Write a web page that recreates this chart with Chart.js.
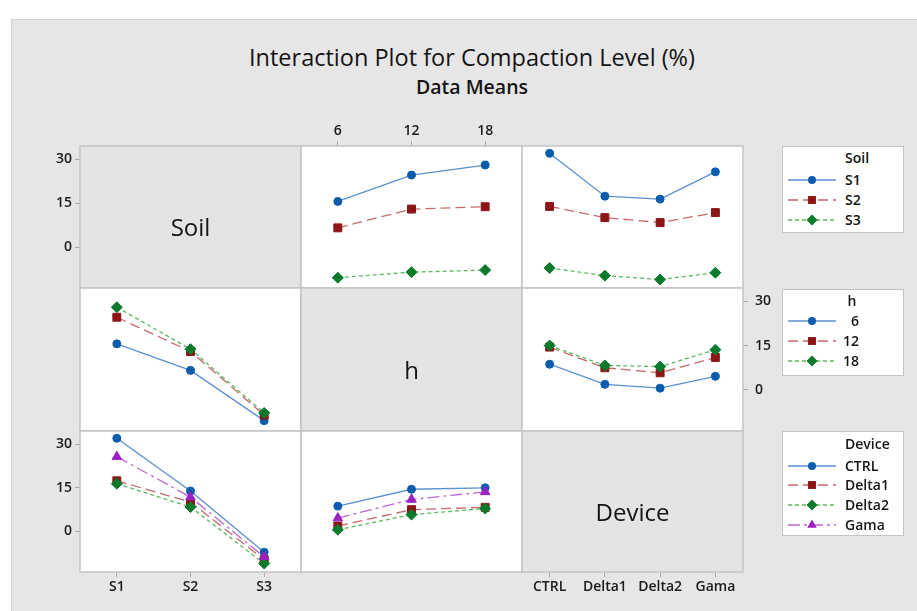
<!DOCTYPE html>
<html>
<head>
<meta charset="utf-8">
<script src="https://cdn.jsdelivr.net/npm/chart.js@4.4.1/dist/chart.umd.min.js"></script>
<style>
  html, body { margin: 0; padding: 0; background: #fff; }
  #stage { position: relative; width: 917px; height: 611px; overflow: hidden; background: #fff;
           font-family: "Open Sans", "Noto Sans", sans-serif; color: #141414; }
  #frame { position: absolute; left: 11px; top: 19px; right: 0; bottom: 0; background: #e6e6e6;
           border-top: 1px solid #d2d2d2; border-left: 1px solid #d2d2d2; }
  #stage canvas { position: absolute; }
  .title { position: absolute; left: 0; width: 944px; text-align: center; white-space: nowrap; }
  .diag { position: absolute; text-align: center; font-size: 24px; font-weight: 500; white-space: nowrap; }
  .legend { position: absolute; background: #fff; border: 1.5px solid #c4c4c4; box-sizing: border-box; }
  .legend .lt, .legend .li { position: absolute; height: 20px; line-height: 20px; font-size: 14px;
           font-weight: 600; white-space: nowrap; }
  .legend svg { position: absolute; }
</style>
</head>
<body>
<div id="stage">
  <div id="frame"></div>
  <div class="title" style="top:41px;font-size:23.5px;font-weight:500;">Interaction Plot for Compaction Level (%)</div>
  <div class="title" style="top:73px;font-size:19.5px;font-weight:600;">Data Means</div>
</div>
<script>
// factor levels
const soilLevels = ['S1', 'S2', 'S3'];
const hLevels = ['6', '12', '18'];
const deviceLevels = ['CTRL', 'Delta1', 'Delta2', 'Gama'];
const yTicks = [0, 15, 30];

// mean compaction level (%) per cell: rows S1..S3, columns h = 6, 12, 18
const soilByH = [
  [15.6, 24.6, 28.0],
  [6.6, 13.0, 13.8],
  [-10.4, -8.5, -7.8]
];
// rows S1..S3, columns CTRL, Delta1, Delta2, Gama
const soilByDevice = [
  [32.0, 17.4, 16.4, 25.7],
  [13.9, 10.1, 8.4, 11.8],
  [-7.1, -9.7, -11.0, -8.7]
];
// rows h = 6, 12, 18, columns CTRL, Delta1, Delta2, Gama
const hByDevice = [
  [8.7, 1.9, 0.6, 4.6],
  [14.5, 7.5, 5.8, 11.0],
  [15.0, 8.3, 7.9, 13.6]
];

const yMin = -13.9, yMax = 34.5;
const colX = [80, 301, 522, 743];
const rowY = [146, 288, 431, 572];
const M = 44; // room around each plot area for its axes

const seriesStyles = [
  { marker: '#0b5cad', line: '#5b8fd0', point: 'circle',   radius: 4,   dash: [] },
  { marker: '#8d1515', line: '#c46a6a', point: 'rect',     radius: 5.6, dash: [10, 5] },
  { marker: '#0c7a2c', line: '#5cb85c', point: 'rectRot',  radius: 5.5, dash: [4, 3] },
  { marker: '#9b1fc0', line: '#bb66d8', point: 'triangle', radius: 5.5, dash: [12, 4, 3, 4] }
];

const transpose = m => m[0].map((_, j) => m.map(row => row[j]));

const tickFont = { family: '"Open Sans", sans-serif', size: 14, weight: '600' };
const tickColor = '#1a1a1a';
const axisGrid = { drawOnChartArea: false, drawTicks: true, tickLength: 5, color: '#a8a8a8', lineWidth: 1 };

const panelFrame = {
  id: 'panelFrame',
  beforeDraw(chart, args, o) {
    const a = chart.chartArea, ctx = chart.ctx;
    ctx.save();
    ctx.fillStyle = o.fill;
    ctx.fillRect(a.left, a.top, a.right - a.left, a.bottom - a.top);
    ctx.restore();
  },
  afterDraw(chart) {
    const a = chart.chartArea, ctx = chart.ctx;
    ctx.save();
    ctx.strokeStyle = '#c4c4c4';
    ctx.lineWidth = 1.5;
    ctx.strokeRect(a.left, a.top, a.right - a.left, a.bottom - a.top);
    ctx.restore();
  }
};

function lineSets(rows) {
  return rows.map((vals, i) => {
    const st = seriesStyles[i];
    return {
      data: vals,
      borderColor: st.line,
      borderWidth: 1.3,
      borderDash: st.dash,
      pointStyle: st.point,
      pointRadius: st.radius,
      pointBackgroundColor: st.marker,
      pointBorderColor: st.marker,
      pointBorderWidth: 1,
      tension: 0,
      order: rows.length - i,
      clip: false
    };
  });
}

const stage = document.getElementById('stage');

function panel(r, c, labels, rows, axes, fill) {
  const x = colX[c], y = rowY[r];
  const w = colX[c + 1] - x, h = rowY[r + 1] - y;
  const cv = document.createElement('canvas');
  cv.width = w + 2 * M; cv.height = h + 2 * M;
  cv.style.left = (x - M) + 'px'; cv.style.top = (y - M) + 'px';
  cv.style.width = cv.width + 'px'; cv.style.height = cv.height + 'px';
  stage.appendChild(cv);

  const xShown = !!(axes.top || axes.bottom);
  const yShown = !!(axes.left || axes.right);
  const xScale = {
    type: 'category', offset: true,
    position: axes.top ? 'top' : 'bottom',
    display: xShown,
    grid: Object.assign({ offset: false }, axisGrid),
    border: { display: false },
    ticks: { font: tickFont, color: tickColor, padding: 2, maxRotation: 0, autoSkip: false }
  };
  if (xShown) xScale.afterFit = s => { s.height = M; };
  const yScale = {
    type: 'linear', min: yMin, max: yMax,
    position: axes.right ? 'right' : 'left',
    display: yShown,
    grid: axisGrid,
    border: { display: false },
    afterBuildTicks: s => { s.ticks = yTicks.map(v => ({ value: v })); },
    ticks: { font: tickFont, color: tickColor, padding: axes.right ? 7 : 3 }
  };
  if (yShown) yScale.afterFit = s => { s.width = M; };

  new Chart(cv, {
    type: 'line',
    data: { labels, datasets: rows ? lineSets(rows) : [] },
    options: {
      responsive: false,
      animation: false,
      devicePixelRatio: 1,
      events: [],
      layout: { padding: {
        left: axes.left ? 0 : M, right: axes.right ? 0 : M,
        top: axes.top ? 0 : M, bottom: axes.bottom ? 0 : M } },
      plugins: { legend: { display: false }, tooltip: { enabled: false }, panelFrame: { fill } },
      scales: { x: xScale, y: yScale }
    },
    plugins: [panelFrame]
  });
}

const WHITE = '#ffffff', GREY = '#e4e4e4';
// row 1: Soil
panel(0, 0, hLevels, null, { left: true }, GREY);
panel(0, 1, hLevels, soilByH, { top: true }, WHITE);
panel(0, 2, deviceLevels, soilByDevice, {}, WHITE);
// row 2: h
panel(1, 0, soilLevels, transpose(soilByH), {}, WHITE);
panel(1, 1, hLevels, null, {}, GREY);
panel(1, 2, deviceLevels, hByDevice, { right: true }, WHITE);
// row 3: Device
panel(2, 0, soilLevels, transpose(soilByDevice), { left: true, bottom: true }, WHITE);
panel(2, 1, hLevels, transpose(hByDevice), {}, WHITE);
panel(2, 2, deviceLevels, null, { bottom: true }, GREY);

// factor names on the diagonal
function diagLabel(i, text) {
  const d = document.createElement('div');
  d.className = 'diag';
  d.textContent = text;
  const x = colX[i], y = rowY[i];
  d.style.left = x + 'px';
  d.style.width = (colX[i + 1] - x) + 'px';
  d.style.top = ((y + rowY[i + 1]) / 2 - 8) + 'px';
  d.style.lineHeight = '36px';
  stage.appendChild(d);
}
diagLabel(0, 'Soil');
diagLabel(1, 'h');
diagLabel(2, 'Device');

// legends
const SVGNS = 'http://www.w3.org/2000/svg';
function symbol(st) {
  const svg = document.createElementNS(SVGNS, 'svg');
  svg.setAttribute('width', '48'); svg.setAttribute('height', '14');
  const ln = document.createElementNS(SVGNS, 'line');
  ln.setAttribute('x1', '0'); ln.setAttribute('x2', '48');
  ln.setAttribute('y1', '7'); ln.setAttribute('y2', '7');
  ln.setAttribute('stroke', st.line); ln.setAttribute('stroke-width', '1.3');
  if (st.dash.length) ln.setAttribute('stroke-dasharray', st.dash.join(' '));
  svg.appendChild(ln);
  let mk;
  const cx = 24, cy = 7, r = st.radius;
  if (st.point === 'circle') {
    mk = document.createElementNS(SVGNS, 'circle');
    mk.setAttribute('cx', cx); mk.setAttribute('cy', cy); mk.setAttribute('r', r);
  } else {
    mk = document.createElementNS(SVGNS, 'polygon');
    let pts;
    if (st.point === 'rect') { const s = r * Math.SQRT1_2; pts = [[cx - s, cy - s], [cx + s, cy - s], [cx + s, cy + s], [cx - s, cy + s]]; }
    else if (st.point === 'rectRot') pts = [[cx - r, cy], [cx, cy - r], [cx + r, cy], [cx, cy + r]];
    else pts = [[cx, cy - r], [cx + r * 0.866, cy + r * 0.5], [cx - r * 0.866, cy + r * 0.5]];
    mk.setAttribute('points', pts.map(p => p.join(',')).join(' '));
  }
  mk.setAttribute('fill', st.marker);
  svg.appendChild(mk);
  return svg;
}
function legend(top, height, title, items, rowYs, align) {
  const box = document.createElement('div');
  box.className = 'legend';
  box.style.left = '782px'; box.style.top = top + 'px';
  box.style.width = '122px'; box.style.height = height + 'px';
  const t = document.createElement('div');
  t.className = 'lt'; t.textContent = title;
  t.style.top = (rowYs[0] - 10) + 'px';
  if (align === 'right') { t.style.left = '56px'; t.style.width = '26px'; t.style.textAlign = 'center'; }
  else t.style.left = '62px';
  box.appendChild(t);
  items.forEach((name, i) => {
    const cy = rowYs[i + 1];
    const s = symbol(seriesStyles[i]);
    s.style.left = '5px'; s.style.top = (cy - 7) + 'px';
    box.appendChild(s);
    const l = document.createElement('div');
    l.className = 'li'; l.textContent = name;
    l.style.top = (cy - 10) + 'px';
    if (align === 'right') { l.style.left = '40px'; l.style.width = '36px'; l.style.textAlign = 'right'; }
    else l.style.left = '62px';
    box.appendChild(l);
  });
  stage.appendChild(box);
}
legend(146, 87, 'Soil', soilLevels, [11, 33, 53, 73], 'left');
legend(289, 87, 'h', hLevels, [11, 31, 51, 71], 'right');
legend(431, 105, 'Device', deviceLevels, [12, 34, 53, 73, 93], 'left');
</script>
</body>
</html>
